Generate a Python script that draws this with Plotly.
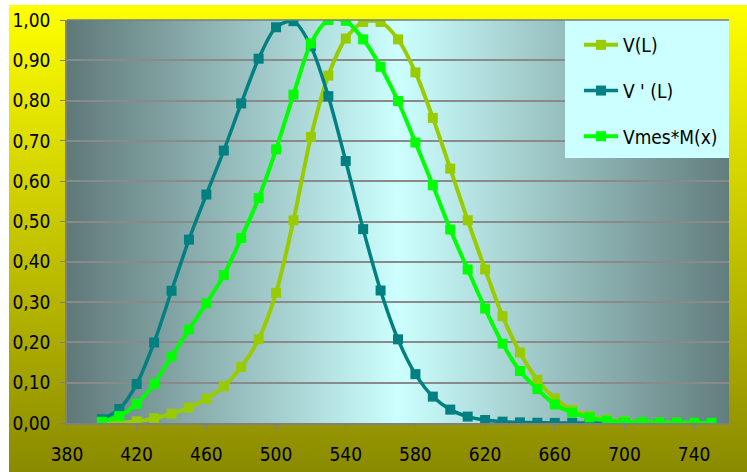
import base64
import plotly.graph_objects as go

# ---------------- data ----------------
wavelength = [400, 410, 420, 430, 440, 450, 460, 470, 480, 490,
              500, 510, 520, 530, 540, 550, 560, 570, 580, 590,
              600, 610, 620, 630, 640, 650, 660, 670, 680, 690,
              700, 710, 720, 730, 740, 750]

v_photopic = [0.0004, 0.0012, 0.004, 0.0116, 0.023, 0.038, 0.06, 0.091, 0.139, 0.208,
              0.323, 0.503, 0.71, 0.862, 0.954, 0.995, 0.995, 0.952, 0.870, 0.757,
              0.631, 0.503, 0.381, 0.265, 0.175, 0.107, 0.061, 0.032, 0.017, 0.0082,
              0.0041, 0.0021, 0.00105, 0.00052, 0.00025, 0.00012]

v_scotopic = [0.0093, 0.0348, 0.0966, 0.1998, 0.3281, 0.455, 0.567, 0.676, 0.793, 0.904,
              0.982, 0.997, 0.935, 0.811, 0.650, 0.481, 0.3288, 0.2076, 0.1212, 0.0655,
              0.0332, 0.0159, 0.0074, 0.0033, 0.0015, 0.0007, 0.0003, 0.0001, 0.00007, 0.00004,
              0.00002, 0.00001, 0.0, 0.0, 0.0, 0.0]

v_mesopic = [0.003, 0.017, 0.047, 0.097, 0.165, 0.232, 0.297, 0.367, 0.459, 0.558,
             0.679, 0.815, 0.942, 1.0, 0.998, 0.952, 0.884, 0.799, 0.696, 0.590,
             0.480, 0.381, 0.284, 0.197, 0.129, 0.084, 0.046, 0.026, 0.014, 0.006,
             0.003, 0.002, 0.001, 0.0007, 0.0004, 0.0002]

series_names = ["V(L)", "V ' (L)", "Vmes*M(x)"]
series_colors = ["#99cc00", "#008080", "#00ff00"]
series_widths = [4, 3.5, 4]

x_ticks = [380, 420, 460, 500, 540, 580, 620, 660, 700, 740]
y_ticks = [0.0, 0.1, 0.2, 0.3, 0.4, 0.5, 0.6, 0.7, 0.8, 0.9, 1.0]
y_ticktext = ["0,00", "0,10", "0,20", "0,30", "0,40", "0,50", "0,60", "0,70", "0,80", "0,90", "1,00"]

FONT = "DejaVu Sans Condensed, Tahoma, DejaVu Sans, sans-serif"


def svg_uri(svg):
    return "data:image/svg+xml;base64," + base64.b64encode(svg.encode()).decode()


yellow_svg = ("<svg xmlns='http://www.w3.org/2000/svg' width='100' height='100' viewBox='0 0 100 100' "
              "preserveAspectRatio='none'><defs><linearGradient id='g' x1='0' y1='0' x2='0' y2='1'>"
              "<stop offset='0' stop-color='#ffff00'/><stop offset='1' stop-color='#8a8a00'/>"
              "</linearGradient></defs><rect width='100' height='100' fill='url(#g)'/></svg>")

plot_svg = ("<svg xmlns='http://www.w3.org/2000/svg' width='100' height='100' viewBox='0 0 100 100' "
            "preserveAspectRatio='none'><defs><linearGradient id='g' x1='0' y1='0' x2='1' y2='0'>"
            "<stop offset='0' stop-color='#5f7878'/><stop offset='0.5' stop-color='#ccffff'/>"
            "<stop offset='1' stop-color='#627d7d'/></linearGradient></defs>"
            "<rect width='100' height='100' fill='url(#g)'/></svg>")

fig = go.Figure()
series = [v_photopic, v_scotopic, v_mesopic]
for name, vals, col, w in zip(series_names, series, series_colors, series_widths):
    fig.add_trace(go.Scatter(
        x=wavelength, y=vals, name=name, mode="lines+markers",
        line=dict(color=col, width=w, shape="spline", smoothing=0.8),
        marker=dict(symbol="square", size=10, color=col),
        legendgroup=name,
    ))

W, H = 747, 472
L, R, T, B = 67, 18, 20, 49
pw, ph = W - L - R, H - T - B


def px_x(p):
    return (p - L) / pw


def px_y(p):
    return (H - B - p) / ph


fig.update_layout(
    width=W, height=H,
    margin=dict(l=L, r=R, t=T, b=B, autoexpand=False),
    paper_bgcolor="white",
    plot_bgcolor="rgba(0,0,0,0)",
    font=dict(family=FONT, size=19, color="black"),
    showlegend=True,
    legend=dict(
        x=px_x(579), y=px_y(26), xanchor="left", yanchor="top",
        bgcolor="rgba(0,0,0,0)", borderwidth=0,
        itemwidth=34, tracegroupgap=18,
        font=dict(family=FONT, size=19, color="black"),
    ),
    images=[
        dict(source=svg_uri(yellow_svg), xref="paper", yref="paper",
             x=px_x(9), y=px_y(5), sizex=(W - 9) / pw, sizey=(H - 5) / ph,
             xanchor="left", yanchor="top", sizing="stretch", layer="below"),
        dict(source=svg_uri(plot_svg), xref="paper", yref="paper",
             x=0, y=1, sizex=1, sizey=1,
             xanchor="left", yanchor="top", sizing="stretch", layer="below"),
    ],
    shapes=[
        dict(type="rect", xref="paper", yref="paper",
             x0=px_x(565), x1=1, y0=px_y(158), y1=1,
             fillcolor="#ccffff", line=dict(width=0), layer="above"),
        dict(type="line", xref="paper", yref="paper",
             x0=0, x1=1, y0=1, y1=1,
             line=dict(color="#6f7f8a", width=1.5), layer="above"),
    ],
)

fig.update_xaxes(
    range=[380, 760], tickvals=x_ticks, ticktext=[str(v) for v in x_ticks],
    showgrid=False, zeroline=False, automargin=False,
    showline=True, linecolor="#808080", linewidth=1.5,
    ticks="outside", ticklen=5, tickcolor="#808080", tickwidth=1,
    ticklabelstandoff=8,
    tickfont=dict(family=FONT, size=19, color="black"),
)
fig.update_yaxes(
    range=[0, 1], tickvals=y_ticks, ticktext=y_ticktext,
    showgrid=True, gridcolor="#8a8a8a", gridwidth=1.5, zeroline=False, automargin=False,
    showline=True, linecolor="#808080", linewidth=1.5,
    ticks="outside", ticklen=5, tickcolor="#808080", tickwidth=1,
    ticklabelstandoff=6,
    tickfont=dict(family=FONT, size=19, color="black"),
)

fig.write_html("out.html")
